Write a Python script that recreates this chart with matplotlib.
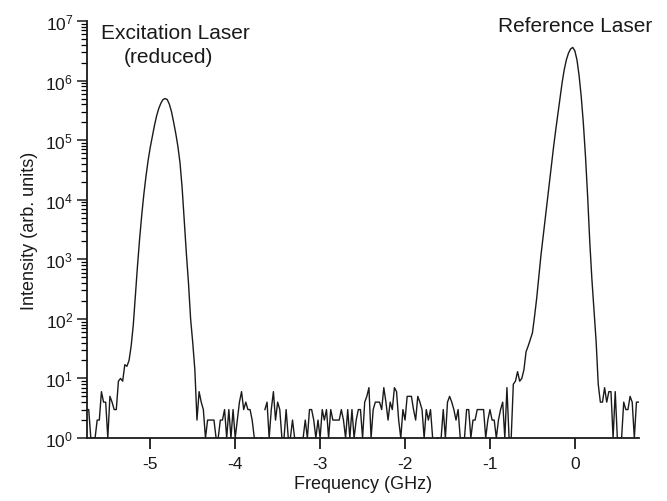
#!/usr/bin/env python3
# Spectrum of excitation and reference laser, log intensity vs frequency offset
import numpy as np
import matplotlib
matplotlib.use('Agg')
import matplotlib.pyplot as plt
from matplotlib.ticker import LogLocator, NullFormatter, FixedLocator, LogFormatterSciNotation

#-------------------------------------------------------------
# data, counts on a 0.025 GHz grid
freqStart = -5.75   # GHz
freqStep  = 0.025   # GHz

edgeLeft   = [3, 3, 1, 1, 1, 2, 2, 6, 4, 4, 1, 5, 4, 3, 3, 9, 10, 9, 17, 16, 20, 35]
excitation = [79, 250, 790, 2240, 5600, 12600, 25000, 46000, 76000, 117000,
              178000, 257000, 340000, 417000, 480000, 500000, 480000, 400000, 300000, 200000,
              130000, 79000, 42000, 16000, 4500, 1260, 400, 100, 40, 14]
midNoise   = [2, 6, 4, 3,
              1, 2, 2, 2, 2, 1, 1, 2, 2, 3, 1, 3, 1, 3, 1, 2, 4, 6, 3, 4, 3, 3, 2, 1,
              1, 0, 1, 0, 3,
              4, 1, 3, 6, 2, 4, 3, 1, 1, 3, 1, 1, 2, 1, 1, 1, 1, 1, 2, 1, 3, 3, 2, 1, 2, 1,
              3, 2, 3, 1, 3, 2, 2, 2, 2, 3, 2,
              1, 3, 1, 3, 1, 2, 3, 3, 1, 4, 5, 7, 1, 3, 4, 4, 4, 3, 7, 4, 2, 4, 3, 7, 6, 2,
              1, 3, 2, 5, 5, 5, 3, 2, 5, 4, 3, 1, 3, 2, 3, 1, 0, 1, 0, 1, 3, 1, 4, 5, 4, 3,
              2, 3, 1, 1, 1, 3, 3, 1, 2, 2, 3,
              3, 3, 3, 1, 2, 3, 2, 2, 1, 2, 3, 4, 1, 7, 1, 1, 8, 9, 13, 9, 10, 14, 28, 35,
              45, 58, 110]
reference  = [220, 500, 1150, 2340, 4800, 10000, 20000, 40000, 79000, 150000,
              275000, 500000, 930000, 1530000, 2240000, 2900000, 3400000, 3600000, 3150000, 2200000,
              1200000, 530000, 190000, 53000, 11500, 2000, 470, 140, 42, 8]
edgeRight  = [4, 4, 7, 4, 6, 6, 1, 6, 1, 1, 1, 4, 3, 3, 5, 4, 1, 4, 4]

counts = np.array(edgeLeft + excitation + midNoise + reference + edgeRight, dtype=float)
freq   = freqStart + freqStep*np.arange(len(counts))

# zero counts cannot be shown on a log axis -> gaps
y = np.where(counts > 0, counts, np.nan)
lonely = np.zeros(len(y), dtype=bool)
lonely[1:-1] = (counts[1:-1] > 0) & (counts[:-2] == 0) & (counts[2:] == 0)

xTicks = [-5, -4, -3, -2, -1, 0]
xTickLabels = ['-5', '-4', '-3', '-2', '-1', '0']
yTicks = [1e0, 1e1, 1e2, 1e3, 1e4, 1e5, 1e6, 1e7]

#-------------------------------------------------------------
plt.rcParams['font.family'] = ['Liberation Sans', 'DejaVu Sans']
plt.rcParams['mathtext.fontset'] = 'custom'
plt.rcParams['mathtext.rm'] = 'Liberation Sans'
plt.rcParams['axes.unicode_minus'] = False

fig = plt.figure(figsize=(6.67, 5.02), dpi=100)
ax = fig.add_axes([87/667, 63/502, 552/667, 417/502])

ax.plot(freq, y, color='#1a1a1a', lw=1.0)
ax.plot(freq[lonely], y[lonely], ls='none', marker='.', ms=1.5, color='#1a1a1a')

ax.set_yscale('log')
ax.set_ylim(1, 1e7)
ax.set_xlim(-5.745, 0.755)

ax.xaxis.set_major_locator(FixedLocator(xTicks))
ax.set_xticklabels(xTickLabels)
ax.yaxis.set_major_locator(FixedLocator(yTicks))
ax.yaxis.set_major_formatter(LogFormatterSciNotation())
minors = LogLocator(base=10, subs=np.arange(2, 10), numticks=100).tick_values(1, 1e7)
ax.yaxis.set_minor_locator(FixedLocator([m for m in minors if 1 < m < 1e7]))
ax.yaxis.set_minor_formatter(NullFormatter())

for s in ['top', 'right']:
    ax.spines[s].set_visible(False)
for s in ['left', 'bottom']:
    ax.spines[s].set_linewidth(1.3)
    ax.spines[s].set_color('#1a1a1a')

ax.tick_params(axis='x', which='major', direction='out', length=8, width=1.3, pad=5, labelsize=12.5, colors='#1a1a1a')
ax.tick_params(axis='y', which='major', direction='out', length=7, width=1.1, pad=3, labelsize=12.5, colors='#1a1a1a')
ax.tick_params(axis='y', which='minor', direction='out', length=4, width=0.9)

ax.set_xlabel('Frequency (GHz)', fontsize=13, labelpad=3, color='#1a1a1a')
ax.set_ylabel('Intensity (arb. units)', fontsize=13, labelpad=5, color='#1a1a1a')

ax.text(-4.70, 6.5e6, 'Excitation Laser', ha='center', va='center', fontsize=15, color='#1a1a1a')
ax.text(-4.79, 2.57e6, '(reduced)', ha='center', va='center', fontsize=15, color='#1a1a1a')
ax.text(0.006, 8.5e6, 'Reference Laser', ha='center', va='center', fontsize=15, color='#1a1a1a', clip_on=False)

fig.savefig('out.png', dpi=100)
